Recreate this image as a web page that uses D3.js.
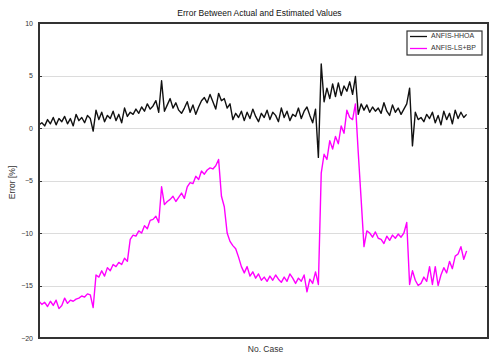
<!DOCTYPE html>
<html lang="en">
<head>
    <meta charset="UTF-8">
    <title></title>
    <style>
        body { margin: 0; background: #fff; }
        .grid line { stroke: #dcdcdc; stroke-width: 1px; shape-rendering: crispEdges; }
        .grid path { stroke-width: 0; }
        .axis path, .axis line { stroke: #333; shape-rendering: crispEdges; }
        .axis text { font-family: 'Liberation Sans', Arial, sans-serif; font-size: 7px; fill: #333; }
        .frame { fill: none; stroke: #333; stroke-width: 1.3px; shape-rendering: crispEdges; }
        .line { fill: none; stroke-width: 1.4px; stroke-linejoin: round; }
        .title { font-family: 'Liberation Sans', Arial, sans-serif; font-size: 8.5px; text-anchor: middle; fill: #111; }
        .axis-label { font-family: 'Liberation Sans', Arial, sans-serif; font-size: 8.5px; text-anchor: middle; fill: #333; }
        .legend text { font-family: 'Liberation Sans', Arial, sans-serif; font-size: 7px; fill: #333; dominant-baseline: middle; }
    </style>
</head>
<body>
    <script src="https://d3js.org/d3.v7.min.js"></script>
    <script>
        const seriesNames = ['ANFIS-HHOA', 'ANFIS-LS+BP'];
        const seriesColors = ['#111111', '#ff00ff'];
        const yTicks = [10, 5, 0, -5, -10, -15, -20];

        // one value every 2 cases
        const hhoa = [
            0.3, 0.5, 0.2, 0.8, 0.4, 1.0, 0.3, 0.9, 0.6, 1.1,
            0.4, 0.9, 0.2, 1.3, 0.7, 1.0, 0.5, 1.2, 0.9, -0.3,
            1.7, 0.8, 1.5, 0.6, 1.2, 0.9, 1.6, 0.7, 1.3, 0.5,
            1.9, 1.1, 1.5, 1.3, 1.8, 1.4, 2.0, 1.6, 2.3, 1.8,
            2.1, 2.6, 1.5, 4.5, 1.6, 2.2, 2.8, 1.9, 2.4, 1.7,
            1.4, 1.9, 2.5, 1.5, 2.2, 1.3, 2.0, 2.6, 2.9, 2.4,
            3.2, 2.5, 1.8, 3.3, 2.6, 2.8, 1.9, 2.3, 0.8, 1.4,
            1.0, 1.6, 0.7, 1.5, 0.9, 1.8, 1.1, 0.6, 1.4, 1.0,
            1.7, 0.8, 1.5, 1.2, 0.6, 1.9, 1.0, 1.6, 0.7, 1.3,
            1.1, 1.9, 0.9, 1.6, 2.0, 1.2, 0.5, 1.8, -2.8, 6.1,
            2.5, 3.8, 2.8, 4.2, 3.0, 4.3, 3.1, 4.0, 3.5, 4.4,
            3.2, 4.9, 1.3, 2.3, 1.7, 2.2, 1.5, 2.0, 1.6, 1.9,
            1.4, 2.4, 1.6, 1.2, 2.2, 1.5, 1.9, 1.3, 1.8, 2.3,
            3.8, -1.7, 1.5, 0.8, 1.0, 0.6, 1.3, 0.9, 1.5, 0.5,
            1.2, 0.3, 1.6, 0.8, 1.4, 0.4, 1.7, 0.9, 1.5, 1.0, 1.3
        ];
        const lsbp = [
            -16.5, -16.8, -16.6, -17.0, -16.5, -16.9, -16.4, -17.2, -16.9, -16.2,
            -16.7, -16.4, -16.5, -16.3, -16.2, -16.0, -16.1, -15.8, -15.9, -17.1,
            -14.0, -14.2, -13.6, -14.1, -13.3, -13.6, -13.0, -13.2, -12.8, -13.0,
            -12.4, -12.7, -10.6, -10.2, -10.3, -9.8, -10.0, -9.3, -9.6, -8.8,
            -8.7, -8.4, -9.0, -5.6, -7.3, -7.0, -6.8, -6.5, -7.0, -6.6,
            -6.2, -6.7, -5.6, -5.2, -5.3, -4.6, -4.9, -4.1, -4.4, -4.0,
            -3.8, -3.9, -3.6, -3.0, -6.5, -7.5, -10.0, -10.8, -11.2, -11.5,
            -12.3, -13.2, -13.8, -13.2, -14.1, -13.7, -14.3, -13.9, -14.5, -14.2,
            -14.6, -14.1, -14.5, -14.0, -14.4, -14.7, -14.2, -14.6, -13.9, -14.3,
            -14.8, -14.3, -14.6, -14.0, -15.6, -14.4, -14.8, -13.7, -14.9, -4.3,
            -2.5, -3.0, -1.2, -2.0, -0.8, -1.5, 0.2, -0.5, 1.7, 1.0,
            0.8, 2.3, -2.4, -6.8, -11.3, -9.8, -10.0, -10.4, -9.9, -10.5,
            -10.6, -11.0, -10.3, -10.7, -10.2, -10.5, -10.1, -10.4, -10.0, -9.0,
            -14.9, -13.6, -14.5, -15.0, -14.8, -14.2, -14.6, -13.2, -14.9, -13.2,
            -15.0, -14.0, -13.3, -13.8, -12.7, -13.4, -12.2, -12.0, -11.3, -12.5, -11.7
        ];

        const width = 489;
        const height = 356;
        const margin = { top: 23, right: 1, bottom: 18, left: 39 };
        const innerW = width - margin.left - margin.right;
        const innerH = height - margin.top - margin.bottom;

        const xScale = d3.scaleLinear().domain([0, 315]).range([0, innerW]);
        const yScale = d3.scaleLinear().domain([-20, 10]).range([innerH, 0]);

        const svg = d3.select('body').append('svg')
            .attr('width', width)
            .attr('height', height);
        const chart = svg.append('g')
            .attr('transform', `translate(${margin.left}, ${margin.top})`);

        chart.append('g')
            .attr('class', 'grid')
            .call(d3.axisLeft(yScale).tickValues(yTicks).tickSize(-innerW).tickFormat(''));

        const line = d3.line()
            .x((d, i) => xScale(i * 2))
            .y(d => yScale(d));

        [hhoa, lsbp].forEach((s, k) => {
            chart.append('path')
                .datum(s)
                .attr('class', 'line')
                .attr('stroke', seriesColors[k])
                .attr('d', line);
        });

        chart.append('g')
            .attr('class', 'axis')
            .call(d3.axisLeft(yScale).tickValues(yTicks).tickSizeInner(-3).tickSizeOuter(0).tickPadding(6))
            .select('.domain').remove();
        chart.append('g')
            .attr('class', 'axis')
            .attr('transform', `translate(${innerW}, 0)`)
            .call(d3.axisRight(yScale).tickValues(yTicks).tickSizeInner(-3).tickSizeOuter(0).tickFormat(''))
            .select('.domain').remove();

        chart.append('rect')
            .attr('class', 'frame')
            .attr('x', 0)
            .attr('y', 0)
            .attr('width', innerW)
            .attr('height', innerH);

        svg.append('text')
            .attr('class', 'title')
            .attr('x', margin.left + innerW / 2 - 4)
            .attr('y', margin.top - 7)
            .text('Error Between Actual and Estimated Values');

        svg.append('text')
            .attr('class', 'axis-label')
            .attr('transform', `translate(15, ${margin.top + innerH / 2 + 2}) rotate(-90)`)
            .text('Error [%]');

        svg.append('text')
            .attr('class', 'axis-label')
            .attr('x', margin.left + innerW / 2 + 2)
            .attr('y', height - 4)
            .text('No. Case');

        const legend = svg.append('g')
            .attr('class', 'legend')
            .attr('transform', 'translate(407, 31)');
        legend.append('rect')
            .attr('width', 75)
            .attr('height', 24)
            .attr('fill', '#fff')
            .attr('stroke', '#333')
            .attr('stroke-width', 1.2);
        seriesNames.forEach((name, k) => {
            const y = 5.5 + k * 12;
            legend.append('line')
                .attr('x1', 3).attr('x2', 20)
                .attr('y1', y).attr('y2', y)
                .attr('stroke', seriesColors[k])
                .attr('stroke-width', 1.3);
            legend.append('text')
                .attr('x', 24)
                .attr('y', y)
                .text(name);
        });
    </script>
</body>
</html>
